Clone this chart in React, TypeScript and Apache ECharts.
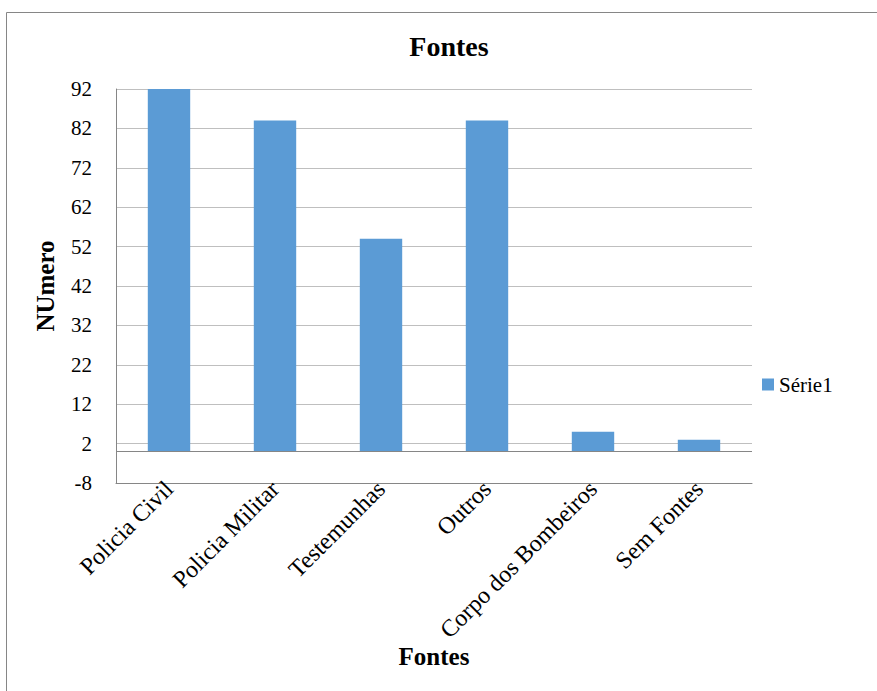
import React, { useEffect, useRef } from "react";
import * as echarts from "echarts";

const categories = [
  "Policia Civil",
  "Policia Militar",
  "Testemunhas",
  "Outros",
  "Corpo dos Bombeiros",
  "Sem Fontes",
];
const serie1 = [92, 84, 54, 84, 5, 3];
const seriesName = "Série1";
const chartTitle = "Fontes";
const xAxisTitle = "Fontes";
const yAxisTitle = "NUmero";
const yMin = -8;
const yMax = 92;
const yStep = 10;

const FONT = "'Liberation Serif', serif";

export default function App() {
  const ref = useRef<HTMLDivElement>(null);

  useEffect(() => {
    if (!ref.current) return;
    const chart = echarts.init(ref.current, undefined, { renderer: "svg" });
    chart.setOption({
      animation: false,
      backgroundColor: "#ffffff",
      textStyle: { fontFamily: FONT },
      graphic: [
        {
          type: "rect",
          shape: { x: 6.5, y: 12.5, width: 1000, height: 1000 },
          style: { fill: "none", stroke: "#868686", lineWidth: 1 },
          silent: true,
        },
        {
          type: "text",
          x: 449,
          y: 46,
          style: {
            text: chartTitle,
            fontFamily: FONT,
            fontSize: 28,
            fontWeight: "bold",
            fill: "#000",
            align: "center",
            verticalAlign: "middle",
          },
        },
      ],
      legend: {
        left: 757,
        top: 369,
        orient: "vertical",
        icon: "rect",
        itemWidth: 12,
        itemHeight: 12,
        itemGap: 6,
        textStyle: { fontFamily: FONT, fontSize: 21, color: "#000" },
        data: [seriesName],
      },
      grid: { left: 116, right: 125, top: 89, bottom: 208, containLabel: false },
      xAxis: {
        type: "category",
        data: categories,
        position: "bottom",
        axisLine: { onZero: false, lineStyle: { color: "#868686" } },
        axisTick: { show: false },
        axisLabel: {
          rotate: 45,
          interval: 0,
          margin: 2,
          fontFamily: FONT,
          fontSize: 24,
          color: "#000",
        },
        name: xAxisTitle,
        nameLocation: "middle",
        nameGap: 161,
        nameMoveOverlap: false,
        nameTextStyle: { fontFamily: FONT, fontSize: 25, fontWeight: "bold", color: "#000", verticalAlign: "top" },
      },
      yAxis: {
        type: "value",
        min: yMin,
        max: yMax,
        interval: yStep,
        axisLine: { show: true, lineStyle: { color: "#868686" } },
        axisTick: { show: false },
        splitLine: { show: true, lineStyle: { color: "#BFBFBF", width: 1 } },
        axisLabel: { margin: 24, fontFamily: FONT, fontSize: 21, color: "#000" },
        name: yAxisTitle,
        nameLocation: "middle",
        nameGap: 58,
        nameMoveOverlap: false,
        nameTextStyle: { fontFamily: FONT, fontSize: 25, fontWeight: "bold", color: "#000" },
      },
      series: [
        {
          name: seriesName,
          type: "bar",
          data: serie1,
          barWidth: "40%",
          itemStyle: { color: "#5B9BD5" },
          markLine: {
            silent: true,
            symbol: "none",
            label: { show: false },
            lineStyle: { color: "#868686", type: "solid", width: 1 },
            data: [{ yAxis: 0 }],
          },
        },
      ],
    });
    return () => chart.dispose();
  }, []);

  return <div ref={ref} style={{ width: 877, height: 691, position: "absolute", left: 0, top: 0 }} />;
}
